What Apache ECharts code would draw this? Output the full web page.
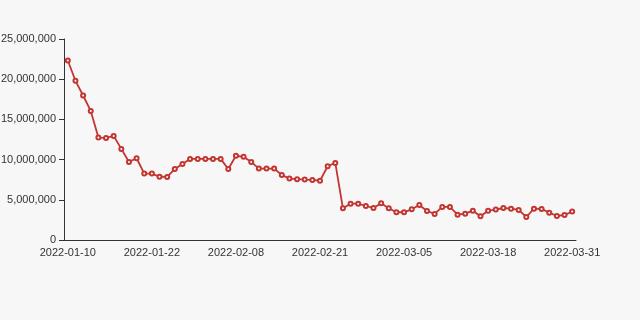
<!DOCTYPE html>
<html>
<head>
<meta charset="utf-8">
<script src="https://cdn.jsdelivr.net/npm/echarts@6/dist/echarts.min.js"></script>
<style>
html,body{margin:0;padding:0;background:#f7f7f7;}
#main{width:640px;height:320px;}
</style>
</head>
<body>
<div id="main"></div>
<script>
var dates = [
  '2022-01-10','2022-01-11','2022-01-12','2022-01-13','2022-01-14','2022-01-15','2022-01-17','2022-01-18','2022-01-19','2022-01-20','2022-01-21','2022-01-22',
  '2022-01-23','2022-01-24','2022-01-25','2022-01-26','2022-01-27','2022-01-28','2022-01-29','2022-01-30','2022-02-06','2022-02-07','2022-02-08',
  '2022-02-09','2022-02-10','2022-02-11','2022-02-12','2022-02-14','2022-02-15','2022-02-16','2022-02-17','2022-02-18','2022-02-19','2022-02-21',
  '2022-02-22','2022-02-23','2022-02-24','2022-02-25','2022-02-26','2022-02-28','2022-03-01','2022-03-02','2022-03-03','2022-03-04','2022-03-05',
  '2022-03-06','2022-03-07','2022-03-08','2022-03-09','2022-03-10','2022-03-11','2022-03-12','2022-03-14','2022-03-15','2022-03-16','2022-03-18',
  '2022-03-19','2022-03-20','2022-03-21','2022-03-22','2022-03-23','2022-03-24','2022-03-26','2022-03-27','2022-03-28','2022-03-29','2022-03-31'
];
var values = [
  22330000,19800000,17970000,16060000,12740000,12700000,12950000,11330000,9710000,10170000,8260000,8260000,
  7870000,7850000,8840000,9460000,10090000,10090000,10090000,10090000,10090000,8840000,10480000,
  10340000,9710000,8880000,8880000,8880000,8090000,7640000,7560000,7510000,7470000,7370000,
  9170000,9590000,3940000,4520000,4520000,4230000,3980000,4570000,3940000,3450000,3450000,
  3820000,4360000,3610000,3240000,4110000,4110000,3150000,3280000,3650000,2950000,3650000,
  3780000,3980000,3900000,3740000,2860000,3900000,3860000,3400000,2990000,3110000,3530000
];
var yMin = 0, yMax = 25000000, yStep = 5000000;

var chart = echarts.init(document.getElementById('main'));
chart.setOption({
  backgroundColor: '#f7f7f7',
  animation: false,
  grid: {left: 64, right: 64, top: 39, bottom: 80, containLabel: false, outerBoundsMode: 'none'},
  xAxis: {
    type: 'category',
    data: dates,
    boundaryGap: true,
    axisLine: {lineStyle: {color: '#333'}},
    axisTick: {interval: 10, lineStyle: {color: '#333'}},
    axisLabel: {interval: 10, color: '#333', fontSize: 11, fontFamily: 'Liberation Sans', margin: 7}
  },
  yAxis: {
    type: 'value',
    min: yMin, max: yMax, interval: yStep,
    axisLine: {show: true, lineStyle: {color: '#333'}},
    axisTick: {show: true, lineStyle: {color: '#333'}},
    splitLine: {show: false},
    axisLabel: {color: '#333', fontSize: 11, fontFamily: 'Liberation Sans',
      formatter: function (v) { return v.toLocaleString('en-US'); }}
  },
  series: [{
    type: 'line',
    data: values,
    symbol: 'emptyCircle',
    symbolSize: 4,
    itemStyle: {color: '#c23531', borderWidth: 1},
    lineStyle: {color: '#c23531', width: 1.8}
  }]
});
</script>
</body>
</html>
